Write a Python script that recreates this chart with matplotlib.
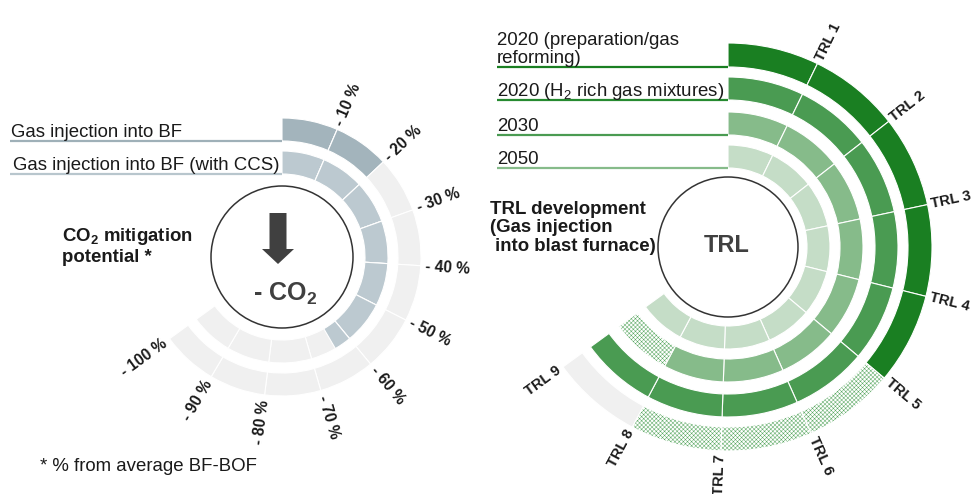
import matplotlib
matplotlib.use('Agg')
import matplotlib.pyplot as plt
from matplotlib.patches import Wedge, Circle, FancyArrow
import numpy as np

plt.rcParams['font.family'] = ['Liberation Sans', 'DejaVu Sans']
plt.rcParams['mathtext.default'] = 'regular'
plt.rcParams['hatch.linewidth'] = 0.35

# ---------------- data ----------------
co2_ticks = ['- 10 %', '- 20 %', '- 30 %', '- 40 %', '- 50 %',
             '- 60 %', '- 70 %', '- 80 %', '- 90 %', '- 100 %']
co2_series = ['Gas injection into BF', 'Gas injection into BF (with CCS)']
co2_reached = [20, 64]          # CO2 mitigation potential, % from average BF-BOF

trl_ticks = ['TRL 1', 'TRL 2', 'TRL 3', 'TRL 4', 'TRL 5',
             'TRL 6', 'TRL 7', 'TRL 8', 'TRL 9']
trl_series = ['2020 (preparation/gas\nreforming)', '2020 (H$_2$ rich gas mixtures)',
              '2030', '2050']
trl_reached = [5, 9, 8, 9]      # TRL level reached (solid)
trl_expected = [8, 9, 9, 9]     # TRL level expected (hatched)

# ---------------- layout / style ----------------
W, H = 976, 494
fig = plt.figure(figsize=(W / 100, H / 100), dpi=100)
ax = fig.add_axes([0, 0, 1, 1])
ax.set_xlim(0, W)
ax.set_ylim(0, H)
ax.set_aspect('equal')
ax.axis('off')

SPAN = 234.0
GRAY = '#f0f0f0'
TXT = '#1a1a1a'
DARK = '#404040'
LAB_FS = 13.4


def seg(cx, cy, r_out, width, a1, a2, **kw):
    ax.add_patch(Wedge((cx, cy), r_out, a1, a2, width=width, **kw))


def tick_labels(cx, cy, r, labels, step, fs):
    for i, lab in enumerate(labels):
        a = 90 - (i + 1) * step
        t = np.deg2rad(a)
        x, y = cx + r * np.cos(t), cy + r * np.sin(t)
        if np.cos(t) >= -1e-9:
            rot, ha = a, 'left'
        else:
            rot, ha = a + 180, 'right'
        ax.text(x, y, lab, rotation=rot, ha=ha, va='center', rotation_mode='anchor',
                fontsize=fs, fontweight='bold', color=TXT)


# ---------------- left gauge: CO2 mitigation ----------------
lcx, lcy = 282, H - 257
l_rings = [(139, 23), (106, 23)]
l_cols = ['#a3b4bc', '#bcc9d0']
l_line_cols = ['#9fb0b8', '#b8c6cd']
n_l = len(co2_ticks)
step_l = SPAN / n_l
for j, ((ro, w), v) in enumerate(zip(l_rings, co2_reached)):
    for i in range(n_l):
        a2 = 90 - i * step_l
        a1 = a2 - step_l
        seg(lcx, lcy, ro, w, a1, a2, facecolor=GRAY, edgecolor='white', lw=0.8)
        frac = min(1.0, max(0.0, v / 10.0 - i))
        if frac > 0:
            seg(lcx, lcy, ro, w, a2 - frac * step_l, a2, facecolor=l_cols[j],
                edgecolor='white', lw=0.8)
    yl = lcy + ro - w
    ax.plot([10, lcx], [yl, yl], color=l_line_cols[j], lw=1.6, solid_capstyle='butt')
    ax.text(11 + j * 2, yl + 4, co2_series[j], fontsize=LAB_FS, color=TXT,
            ha='left', va='baseline')

tick_labels(lcx, lcy, 144, co2_ticks, step_l, 11.2)
ax.add_patch(Circle((lcx, lcy), 71, facecolor='white', edgecolor='#333333', lw=1.1))
ax.add_patch(FancyArrow(278, H - 213, 0, -51, width=17, head_width=32, head_length=15,
                        length_includes_head=True, color=DARK, lw=0))
ax.text(285, H - 294, '- CO$_2$', fontsize=18, fontweight='bold', color=DARK,
        ha='center', va='center')
ax.text(62, H - 246, 'CO$_2$ mitigation\npotential *', fontsize=LAB_FS, fontweight='bold',
        color=TXT, ha='left', va='center', linespacing=1.2)
ax.text(40, H - 466, '* % from average BF-BOF', fontsize=LAB_FS, color=TXT,
        ha='left', va='center')

# ---------------- right gauge: TRL development ----------------
rcx, rcy = 728, H - 247
r_rings = [(204, 24), (170, 23), (135, 23), (102, 23)]
r_cols = ['#1a7f22', '#4a9b52', '#86bb8a', '#c5ddc7']
r_line_cols = ['#1a7f22', '#268a30', '#4a9b52', '#86bb8a']
HATCH_COL = '#5aa862'
n_r = len(trl_ticks)
step_r = SPAN / n_r
for j, (ro, w) in enumerate(r_rings):
    for i in range(n_r):
        a2 = 90 - i * step_r
        a1 = a2 - step_r
        if i < trl_reached[j]:
            seg(rcx, rcy, ro, w, a1, a2, facecolor=r_cols[j], edgecolor='white', lw=0.8)
        elif i < trl_expected[j]:
            seg(rcx, rcy, ro, w, a1, a2, facecolor='white', edgecolor=HATCH_COL, lw=0,
                hatch='x' * 8)
            seg(rcx, rcy, ro, w, a1, a2, fill=False, edgecolor='white', lw=0.8)
        else:
            seg(rcx, rcy, ro, w, a1, a2, facecolor=GRAY, edgecolor='white', lw=0.8)
    yl = rcy + ro - w
    ax.plot([497, rcx], [yl, yl], color=r_line_cols[j], lw=1.6, solid_capstyle='butt')
    ax.text(497, yl + 4, trl_series[j], fontsize=LAB_FS, color=TXT,
            ha='left', va='baseline', linespacing=1.05)

tick_labels(rcx, rcy, 208, trl_ticks, step_r, 10.6)
ax.add_patch(Circle((rcx, rcy), 70, facecolor='white', edgecolor='#333333', lw=1.1))
ax.text(727, H - 245, 'TRL', fontsize=17, fontweight='bold', color=DARK,
        ha='center', va='center')
ax.text(490, H - 228, 'TRL development\n(Gas injection\n into blast furnace)',
        fontsize=LAB_FS, fontweight='bold', color=TXT, ha='left', va='center',
        linespacing=1.08)

fig.savefig('out.png', dpi=100)
